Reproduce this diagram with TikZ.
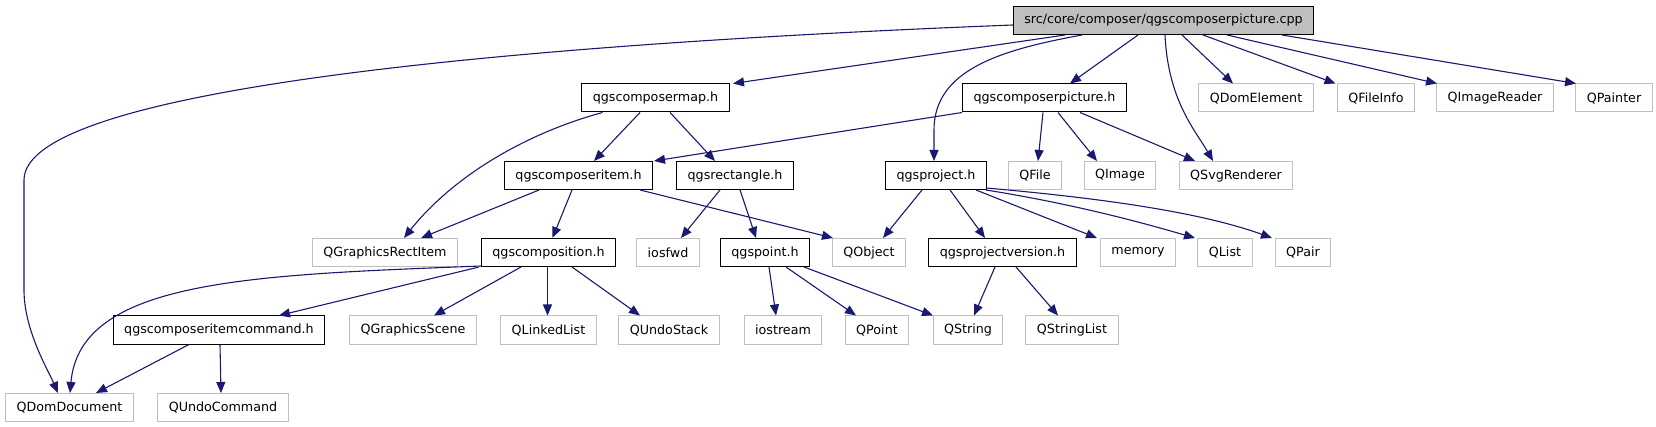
\documentclass[tikz,border=0pt]{standalone}
\usepackage{fontspec}
\setmainfont{DejaVu Sans}
\usetikzlibrary{arrows.meta}
\definecolor{edgeblue}{RGB}{25,25,112}
\definecolor{lightframe}{RGB}{191,191,191}
\definecolor{rootfill}{RGB}{191,191,191}
\begin{document}
\begin{tikzpicture}[x=1pt,y=-1pt,
  box/.style={draw, rectangle, inner xsep=11pt, inner ysep=0pt, minimum height=28pt,
    font=\fontsize{12.7}{15}\selectfont, anchor=center, line width=1pt},
  doc/.style={box, draw=black},
  ext/.style={box, draw=lightframe},
  rootbox/.style={box, draw=black, fill=rootfill},
  dep/.style={draw=edgeblue, line width=1.1pt, -{Triangle[length=11pt,width=9pt]}},
]
\useasboundingbox (0,0) rectangle (1656,427);

% row 0
\node[rootbox] (root) at (1163.5,20.5) {src/core/composer/qgscomposerpicture.cpp};
% row 1
\node[doc] (map) at (655.5,98) {qgscomposermap.h};
\node[doc] (pich) at (1044.5,98) {qgscomposerpicture.h};
\node[ext] (domel) at (1256,98) {QDomElement};
\node[ext] (fileinfo) at (1376,98) {QFileInfo};
\node[ext] (imgreader) at (1495,98) {QImageReader};
\node[ext] (painter) at (1614,98) {QPainter};
% row 2
\node[doc] (item) at (578.5,175.5) {qgscomposeritem.h};
\node[doc] (rect) at (735,175.5) {qgsrectangle.h};
\node[doc] (proj) at (936,175.5) {qgsproject.h};
\node[ext] (qfile) at (1035,175.5) {QFile};
\node[ext] (qimage) at (1120,175.5) {QImage};
\node[ext] (svg) at (1236,175.5) {QSvgRenderer};
% row 3
\node[ext] (grect) at (385,252.5) {QGraphicsRectItem};
\node[doc] (compo) at (548.5,252.5) {qgscomposition.h};
\node[ext] (iosfwd) at (668,252.5) {iosfwd};
\node[doc] (point) at (765,252.5) {qgspoint.h};
\node[ext] (qobject) at (869,252.5) {QObject};
\node[doc] (projver) at (1002.5,252.5) {qgsprojectversion.h};
\node[ext] (memory) at (1138,252.5) {memory};
\node[ext] (qlist) at (1225,252.5) {QList};
\node[ext] (qpair) at (1303,252.5) {QPair};
% row 4
\node[doc] (cmd) at (219,330) {qgscomposeritemcommand.h};
\node[ext] (gscene) at (413,330) {QGraphicsScene};
\node[ext] (linked) at (548.5,330) {QLinkedList};
\node[ext] (undostack) at (669,330) {QUndoStack};
\node[ext] (iostream) at (783,330) {iostream};
\node[ext] (qpoint) at (877,330) {QPoint};
\node[ext] (qstring) at (968,330) {QString};
\node[ext] (strlist) at (1072,330) {QStringList};
% row 5
\node[ext] (domdoc) at (69.5,407.5) {QDomDocument};
\node[ext] (undocmd) at (223,407.5) {QUndoCommand};

% edges from root
\draw[dep] ([yshift=-4.5pt]root.west) .. controls (500,45) and (24,90) .. (24,180) -- (24,290) .. controls (24,330) and (48,370) .. ([xshift=-11.5pt]domdoc.north);
\draw[dep] ([xshift=-98.5pt]root.south) -- ([xshift=77.5pt]map.north);
\draw[dep] ([xshift=-81.5pt]root.south) .. controls (1000,50) and (934,70) .. (934,130) -- ([xshift=-2pt]proj.north);
\draw[dep] ([xshift=-25.5pt]root.south) -- ([xshift=25.5pt]pich.north);
\draw[dep] ([xshift=1.5pt]root.south) .. controls (1168,100) and (1195,130) .. ([xshift=-23pt]svg.north);
\draw[dep] ([xshift=18.5pt]root.south) -- ([xshift=-23pt]domel.north);
\draw[dep] ([xshift=39.5pt]root.south) -- ([xshift=-40.5pt]fileinfo.north);
\draw[dep] ([xshift=63.5pt]root.south) -- ([xshift=-58pt]imgreader.north);
\draw[dep] ([xshift=118.5pt]root.south) -- ([xshift=-38pt]painter.north);

% qgscomposermap.h
\draw[dep] ([xshift=-53pt]map.south) .. controls (520,135) and (450,180) .. ([xshift=19pt]grect.north);
\draw[dep] ([xshift=-15.5pt]map.south) -- ([xshift=15.5pt]item.north);
\draw[dep] ([xshift=14.5pt]map.south) -- ([xshift=-20pt]rect.north);

% qgscomposerpicture.h
\draw[dep] ([xshift=-82.5pt]pich.south) -- ([xshift=75.5pt]item.north);
\draw[dep] ([xshift=-1.5pt]pich.south) -- ([xshift=3pt]qfile.north);
\draw[dep] ([xshift=13.5pt]pich.south) -- ([xshift=-23pt]qimage.north);
\draw[dep] ([xshift=35.5pt]pich.south) -- ([xshift=-41pt]svg.north);

% qgscomposeritem.h
\draw[dep] ([xshift=-39.5pt]item.south) -- ([xshift=36pt]grect.north);
\draw[dep] ([xshift=-6.5pt]item.south) -- ([xshift=4pt]compo.north);
\draw[dep] ([xshift=61.5pt]item.south) -- ([xshift=-36pt]qobject.north);

% qgsrectangle.h
\draw[dep] ([xshift=-15pt]rect.south) -- ([xshift=13pt]iosfwd.north);
\draw[dep] ([xshift=5pt]rect.south) -- ([xshift=-9pt]point.north);

% qgsproject.h
\draw[dep] ([xshift=-14pt]proj.south) -- ([xshift=14pt]qobject.north);
\draw[dep] ([xshift=14pt]proj.south) -- ([xshift=-17.5pt]projver.north);
\draw[dep] ([xshift=40pt]proj.south) -- ([xshift=-41pt]memory.north);
\draw[dep] ([xshift=50pt]proj.south) .. controls (1080,205) and (1150,225) .. ([xshift=-30pt]qlist.north);
\draw[dep] ([xshift=50pt,yshift=2pt]proj.south) .. controls (1100,198) and (1200,212) .. ([xshift=-31pt]qpair.north);

% qgscomposition.h
\draw[dep] ([xshift=-67.5pt,yshift=1pt]compo.south) .. controls (250,275) and (80,280) .. ([xshift=0.5pt]domdoc.north);
\draw[dep] ([xshift=-69.5pt]compo.south) -- ([xshift=60pt]cmd.north);
\draw[dep] ([xshift=-27.5pt]compo.south) -- ([xshift=21pt]gscene.north);
\draw[dep] ([xshift=-1pt]compo.south) -- ([xshift=-1pt]linked.north);
\draw[dep] ([xshift=23.5pt]compo.south) -- ([xshift=-29pt]undostack.north);

% qgspoint.h
\draw[dep] ([xshift=4pt]point.south) -- ([xshift=-7pt]iostream.north);
\draw[dep] ([xshift=21pt]point.south) -- ([xshift=-21pt]qpoint.north);
\draw[dep] ([xshift=39pt]point.south) -- ([xshift=-35pt]qstring.north);

% qgsprojectversion.h
\draw[dep] ([xshift=-7.5pt]projver.south) -- ([xshift=6pt]qstring.north);
\draw[dep] ([xshift=13.5pt]projver.south) -- ([xshift=-14pt]strlist.north);

% qgscomposeritemcommand.h
\draw[dep] ([xshift=-30pt]cmd.south) -- ([xshift=26.5pt]domdoc.north);
\draw[dep] ([xshift=1pt]cmd.south) -- ([xshift=-2pt]undocmd.north);
\end{tikzpicture}
\end{document}
